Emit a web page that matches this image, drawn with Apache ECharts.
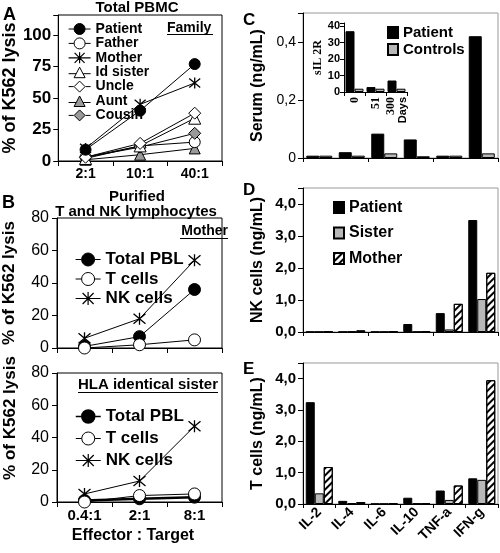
<!DOCTYPE html>
<html><head><meta charset="utf-8">
<script src="https://cdn.jsdelivr.net/npm/echarts@6/dist/echarts.min.js"></script>
<style>html,body{margin:0;padding:0;background:#fff}#c{width:500px;height:553px}</style>
</head><body><div id="c"></div>
<script>
// ---------- DATA ----------
const ratiosA = ['2:1', '10:1', '40:1'];
const lysisPatient  = [9, 40, 77];
const lysisFather   = [3, 12, 15];
const lysisMother   = [10, 45, 62];
const lysisIdSister = [2, 12, 34];
const lysisUncle    = [3, 14, 38];
const lysisAunt     = [1, 5, 10];
const lysisCousin   = [3, 11, 22];

const ratiosB = ['0.4:1', '2:1', '8:1'];
const motherTotalPBL = [1, 7, 36];
const motherTCells   = [0, 2, 5];
const motherNKCells  = [6, 18, 54];
const sisterTotalPBL = [1, 2, 3];
const sisterTCells   = [0, 4, 5];
const sisterNKCells  = [5, 13, 47];

const cytokines = ['IL-2', 'IL-4', 'IL-6', 'IL-10', 'TNF-a', 'IFN-g'];
const serumPatient  = [0.008, 0.02, 0.084, 0.064, 0.008, 0.42];
const serumControls = [0.008, 0.008, 0.016, 0.006, 0.008, 0.016];

const days = ['0', '51', '300'];
const sil2rPatient  = [37, 3, 7];
const sil2rControls = [2, 2, 2];

const nkPatient = [0.01, 0.01, 0.01, 0.25, 0.59, 3.5];
const nkSister  = [0.01, 0.02, 0.01, 0.01, 0.08, 1.03];
const nkMother  = [0.01, 0.05, 0.01, 0.01, 0.88, 1.85];

const tPatient = [3.25, 0.1, 0.01, 0.2, 0.43, 0.82];
const tSister  = [0.34, 0.03, 0.01, 0.02, 0.13, 0.77];
const tMother  = [1.18, 0.06, 0.03, 0.02, 0.59, 3.95];

// ---------- STYLE ----------
const FF = '"Liberation Sans", Arial, sans-serif';
const SERIF = '"Liberation Serif", "Times New Roman", serif';
const GM = '#9a9a9a';   // gray marker
const GB = '#b8b8b8';   // gray bar
const AST = 'path://M0,1L10,11M10,1L0,11M5,0L5,12';
const HATCH = {symbol:'rect', symbolSize:1, dashArrayX:[1,0], dashArrayY:[2,3], rotation:-Math.PI/4, color:'#000'};
const CLEAR = 'rgba(255,255,255,0)';

// legend icons: line through marker, drawn at exact itemWidth x itemHeight
function icon(p, w, h) { return 'path://' + p + 'M0,0L0.01,0M' + w + ',' + h + 'L' + (w - 0.01) + ',' + h; }
const iA = {
  circle: icon('M0,6L5.5,6M16.5,6L22,6M5.5,6A5.5,5.5,0,1,1,16.5,6A5.5,5.5,0,1,1,5.5,6Z', 22, 12),
  tri:    icon('M0,7.5L7.5,7.5M14.5,7.5L22,7.5M11,1L16.5,11.5L5.5,11.5Z', 22, 12),
  dia:    icon('M0,6L5,6M17,6L22,6M11,0.5L16.5,6L11,11.5L5.5,6Z', 22, 12),
  ast:    icon('M0,6L22,6M6,1L16,11M16,1L6,11M11,0.5L11,11.5', 22, 12)
};
const iB = {
  circle: icon('M0,7.5L6,7.5M19,7.5L25,7.5M6,7.5A6.5,6.5,0,1,1,19,7.5A6.5,6.5,0,1,1,6,7.5Z', 25, 15),
  ast:    icon('M0,7.5L25,7.5M7,2L18,13M18,2L7,13M12.5,1L12.5,14', 25, 15)
};
const legItem = (name, ic, fill, bw) => ({name, icon:ic, itemStyle:{color:fill, borderColor:'#000', borderWidth:bw || 1}});

function ln(name, data, gi, symbol, size, fill, lw) {
  const isAst = symbol === AST;
  return {
    type:'line', name, data, xAxisIndex:gi, yAxisIndex:gi,
    symbol, symbolSize:size, showAllSymbol:true,
    lineStyle:{color:'#000', width:lw || 1},
    itemStyle:{color: isAst ? CLEAR : fill, borderColor:'#000', borderWidth: isAst ? 1.3 : 1},
    emphasis:{disabled:true}, z: isAst ? 3 : 4
  };
}
function br(name, data, gi, w, fill, decal) {
  const s = {
    type:'bar', name, data, xAxisIndex:gi, yAxisIndex:gi,
    barWidth:w, barGap:'0%',
    itemStyle:{color:fill, borderColor:'#000', borderWidth:1},
    emphasis:{disabled:true}
  };
  if (decal) s.itemStyle.decal = decal;
  return s;
}
const comma = v => v.toFixed(1).replace('.', ',');
const axLine = {show:true, lineStyle:{color:'#000', width:1}};
const tickOut = {show:true, inside:false, length:5, lineStyle:{color:'#000'}};

const trimName = n => n.trim();

const option = {
  animation:false,
  textStyle:{fontFamily:FF, color:'#000'},
  grid:[
    {left:55, top:15, width:167, height:146, show:true, borderColor:'#000', borderWidth:1},
    {left:57, top:218, width:165, height:130, show:true, borderColor:'#000', borderWidth:1},
    {left:57, top:373, width:165, height:129, show:true, borderColor:'#000', borderWidth:1},
    {left:303, top:13, width:195, height:145, show:true, borderColor:'#999', borderWidth:1},
    {left:344, top:23, width:63, height:69},
    {left:303, top:188, width:195, height:144, show:true, borderColor:'#999', borderWidth:1},
    {left:303, top:363, width:195, height:141, show:true, borderColor:'#999', borderWidth:1}
  ],
  xAxis:[
    {type:'category', gridIndex:0, data:ratiosA, axisLine:axLine, axisTick:tickOut,
     axisLabel:{fontSize:14, fontWeight:'bold', color:'#000', margin:6}},
    {type:'category', gridIndex:1, data:ratiosB, axisLine:axLine, axisTick:tickOut, axisLabel:{show:false}},
    {type:'category', gridIndex:2, data:ratiosB, axisLine:axLine, axisTick:tickOut,
     axisLabel:{fontSize:15, fontWeight:'bold', color:'#000', margin:6}},
    {type:'category', gridIndex:3, data:cytokines, axisLine:axLine, axisTick:{show:true, length:4, lineStyle:{color:'#000'}}, axisLabel:{show:false}},
    {type:'category', gridIndex:4, data:days, axisLine:axLine, axisTick:{show:true, length:4, lineStyle:{color:'#000'}},
     axisLabel:{rotate:90, fontFamily:SERIF, fontWeight:'bold', fontSize:12, color:'#000', margin:5, lineHeight:12,
       formatter:(v, i) => i === 2 ? v + '\n{d|Days}' : v,
       rich:{d:{fontFamily:FF, fontWeight:'bold', fontSize:11, color:'#000', lineHeight:12}}}},
    {type:'category', gridIndex:5, data:cytokines, axisLine:axLine, axisTick:{show:true, length:4, lineStyle:{color:'#000'}}, axisLabel:{show:false}},
    {type:'category', gridIndex:6, data:cytokines, axisLine:axLine, axisTick:{show:true, length:4, lineStyle:{color:'#000'}},
     axisLabel:{rotate:45, fontSize:14, fontWeight:'bold', color:'#000', margin:6, interval:0}}
  ],
  yAxis:[
    {type:'value', gridIndex:0, min:0, max:116, interval:25, splitLine:{show:false}, axisLine:axLine, axisTick:tickOut,
     axisLabel:{fontSize:17, fontWeight:'bold', color:'#000', margin:7, formatter:v => v > 100 ? '' : v},
     name:'% of K562 lysis', nameLocation:'middle', nameGap:37, nameTextStyle:{fontSize:18, fontWeight:'bold', color:'#000'}},
    {type:'value', gridIndex:1, min:0, max:80, interval:20, splitLine:{show:false}, axisLine:axLine, axisTick:tickOut,
     axisLabel:{fontSize:16, color:'#000', margin:8},
     name:'% of K562 lysis', nameLocation:'middle', nameGap:39, nameTextStyle:{fontSize:17, fontWeight:'bold', color:'#000'}},
    {type:'value', gridIndex:2, min:0, max:80, interval:20, splitLine:{show:false}, axisLine:axLine, axisTick:tickOut,
     axisLabel:{fontSize:16, color:'#000', margin:8}},
    {type:'value', gridIndex:3, min:0, max:0.5, interval:0.2, splitLine:{show:false}, axisLine:axLine, axisTick:tickOut,
     axisLabel:{fontSize:14, color:'#000', margin:7, formatter:v => v === 0 ? '0' : (v > 0.45 ? '' : comma(v))},
     name:'Serum (ng/mL)', nameLocation:'middle', nameGap:37, nameTextStyle:{fontSize:16, fontWeight:'bold', color:'#000'}},
    {type:'value', gridIndex:4, min:0, max:42, interval:10, splitLine:{show:false}, axisLine:axLine,
     axisTick:{show:true, length:4, lineStyle:{color:'#000'}},
     axisLabel:{fontSize:11, fontWeight:'bold', color:'#000', margin:4, formatter:v => v > 40 ? '' : v},
     name:'sIL 2R', nameLocation:'middle', nameGap:18, nameTextStyle:{fontFamily:SERIF, fontSize:12, fontWeight:'bold', color:'#000'}},
    {type:'value', gridIndex:5, min:0, max:4.5, interval:1, splitLine:{show:false}, axisLine:axLine, axisTick:tickOut,
     axisLabel:{fontSize:15, fontWeight:'bold', color:'#000', margin:7, formatter:v => v > 4.2 ? '' : comma(v)},
     name:'NK cells (ng/mL)', nameLocation:'middle', nameGap:37, nameTextStyle:{fontSize:16, fontWeight:'bold', color:'#000'}},
    {type:'value', gridIndex:6, min:0, max:4.5, interval:1, splitLine:{show:false}, axisLine:axLine, axisTick:tickOut,
     axisLabel:{fontSize:15, fontWeight:'bold', color:'#000', margin:7, formatter:v => v > 4.2 ? '' : comma(v)},
     name:'T cells (ng/mL)', nameLocation:'middle', nameGap:37, nameTextStyle:{fontSize:16, fontWeight:'bold', color:'#000'}}
  ],
  legend:[
    {data:[
       legItem('Patient', iA.circle, '#000'),
       legItem('Father', iA.circle, '#fff'),
       legItem('Mother', iA.ast, CLEAR, 1.2),
       legItem('Id sister', iA.tri, '#fff'),
       legItem('Uncle', iA.dia, '#fff'),
       legItem('Aunt', iA.tri, GM),
       legItem('Cousin', iA.dia, GM)],
     orient:'vertical', left:63, top:17, itemWidth:22, itemHeight:12, itemGap:0.4, selectedMode:false,
     formatter:trimName, textStyle:{fontSize:14, fontWeight:'bold', color:'#000', lineHeight:12}},
    {data:[legItem('Total PBL', iB.circle, '#000'), legItem('T cells', iB.circle, '#fff'), legItem('NK cells', iB.ast, CLEAR, 1.2)],
     orient:'vertical', left:70, top:246, itemWidth:25, itemHeight:15, itemGap:2.5,
     selectedMode:false, formatter:trimName, textStyle:{fontSize:17, fontWeight:'bold', color:'#000', lineHeight:15}},
    {data:[legItem('Total PBL ', iB.circle, '#000', 1.5), legItem('T cells ', iB.circle, '#fff'), legItem('NK cells ', iB.ast, CLEAR, 1.2)],
     orient:'vertical', left:70, top:403, itemWidth:25, itemHeight:15, itemGap:5,
     selectedMode:false, formatter:trimName, textStyle:{fontSize:17, fontWeight:'bold', color:'#000', lineHeight:15}},
    {data:['Patient  ','Controls'], orient:'vertical', left:382, top:20, icon:'rect', itemWidth:10, itemHeight:11, itemGap:2,
     selectedMode:false, formatter:trimName, textStyle:{fontSize:15, fontWeight:'bold', color:'#000', lineHeight:15}},
    {data:['Patient   ','Sister','Mother '], orient:'vertical', left:328, top:194, icon:'rect', itemWidth:10, itemHeight:11, itemGap:8.5,
     selectedMode:false, formatter:trimName, textStyle:{fontSize:16, fontWeight:'bold', color:'#000', lineHeight:17}}
  ],
  series:[
    ln('Aunt', lysisAunt, 0, 'triangle', 11, GM),
    ln('Father', lysisFather, 0, 'circle', 11, '#fff'),
    ln('Cousin', lysisCousin, 0, 'diamond', 12, GM),
    ln('Id sister', lysisIdSister, 0, 'triangle', 12, '#fff'),
    ln('Uncle', lysisUncle, 0, 'diamond', 12, '#fff'),
    ln('Mother', lysisMother, 0, AST, 11, '#000'),
    ln('Patient', lysisPatient, 0, 'circle', 11, '#000'),

    ln('Total PBL', motherTotalPBL, 1, 'circle', 12, '#000'),
    ln('T cells', motherTCells, 1, 'circle', 12, '#fff'),
    ln('NK cells', motherNKCells, 1, AST, 12, '#000'),

    ln('Total PBL ', sisterTotalPBL, 2, 'circle', 12, '#000', 2.5),
    ln('T cells ', sisterTCells, 2, 'circle', 12, '#fff'),
    ln('NK cells ', sisterNKCells, 2, AST, 12, '#000'),

    br('Patient  ', serumPatient, 3, 13, '#000'),
    br('Controls', serumControls, 3, 13, GB),
    br('Patient  ', sil2rPatient, 4, 9, '#000'),
    br('Controls', sil2rControls, 4, 9, GB),

    br('Patient   ', nkPatient, 5, 9, '#000'),
    br('Sister', nkSister, 5, 9, GB),
    br('Mother ', nkMother, 5, 9, '#fff', HATCH),

    br('Patient   ', tPatient, 6, 9, '#000'),
    br('Sister', tSister, 6, 9, GB),
    br('Mother ', tMother, 6, 9, '#fff', HATCH)
  ],
  graphic:[
    {type:'text', x:3, y:15, style:{text:'A', font:'bold 18px ' + FF, fill:'#000', verticalAlign:'middle'}},
    {type:'text', x:2, y:203, style:{text:'B', font:'bold 18px ' + FF, fill:'#000', verticalAlign:'middle'}},
    {type:'text', x:243, y:20, style:{text:'C', font:'bold 17px ' + FF, fill:'#000', verticalAlign:'middle'}},
    {type:'text', x:243, y:190, style:{text:'D', font:'bold 17px ' + FF, fill:'#000', verticalAlign:'middle'}},
    {type:'text', x:243, y:369, style:{text:'E', font:'bold 17px ' + FF, fill:'#000', verticalAlign:'middle'}},
    {type:'text', x:137, y:8, style:{text:'Total PBMC', font:'bold 15px ' + FF, fill:'#000', align:'center', verticalAlign:'middle'}},
    {type:'text', x:167, y:28, style:{text:'Family', font:'bold 14px ' + FF, fill:'#000', verticalAlign:'middle'}},
    {type:'line', shape:{x1:167, y1:34.5, x2:213, y2:34.5}, style:{stroke:'#000', lineWidth:1}},
    {type:'text', x:137, y:197, style:{text:'Purified', font:'bold 15px ' + FF, fill:'#000', align:'center', verticalAlign:'middle'}},
    {type:'text', x:136, y:212, style:{text:'T and NK lymphocytes', font:'bold 15px ' + FF, fill:'#000', align:'center', verticalAlign:'middle'}},
    {type:'text', x:228, y:231, style:{text:'Mother', font:'bold 14px ' + FF, fill:'#000', align:'right', verticalAlign:'middle'}},
    {type:'line', shape:{x1:180, y1:238.5, x2:228, y2:238.5}, style:{stroke:'#000', lineWidth:1}},
    {type:'text', x:218, y:385, style:{text:'HLA identical sister', font:'bold 15px ' + FF, fill:'#000', align:'right', verticalAlign:'middle'}},
    {type:'line', shape:{x1:78, y1:392.5, x2:218, y2:392.5}, style:{stroke:'#000', lineWidth:1}},
    {type:'text', x:10, y:418, rotation:Math.PI / 2, style:{text:'% of K562 lysis', font:'bold 17px ' + FF, fill:'#000', align:'center', verticalAlign:'middle'}},
    {type:'text', x:133, y:536, style:{text:'Effector : Target', font:'bold 16px ' + FF, fill:'#000', align:'center', verticalAlign:'middle'}}
  ]
};
const chart = echarts.init(document.getElementById('c'));
chart.setOption(option);
</script>
</body></html>
